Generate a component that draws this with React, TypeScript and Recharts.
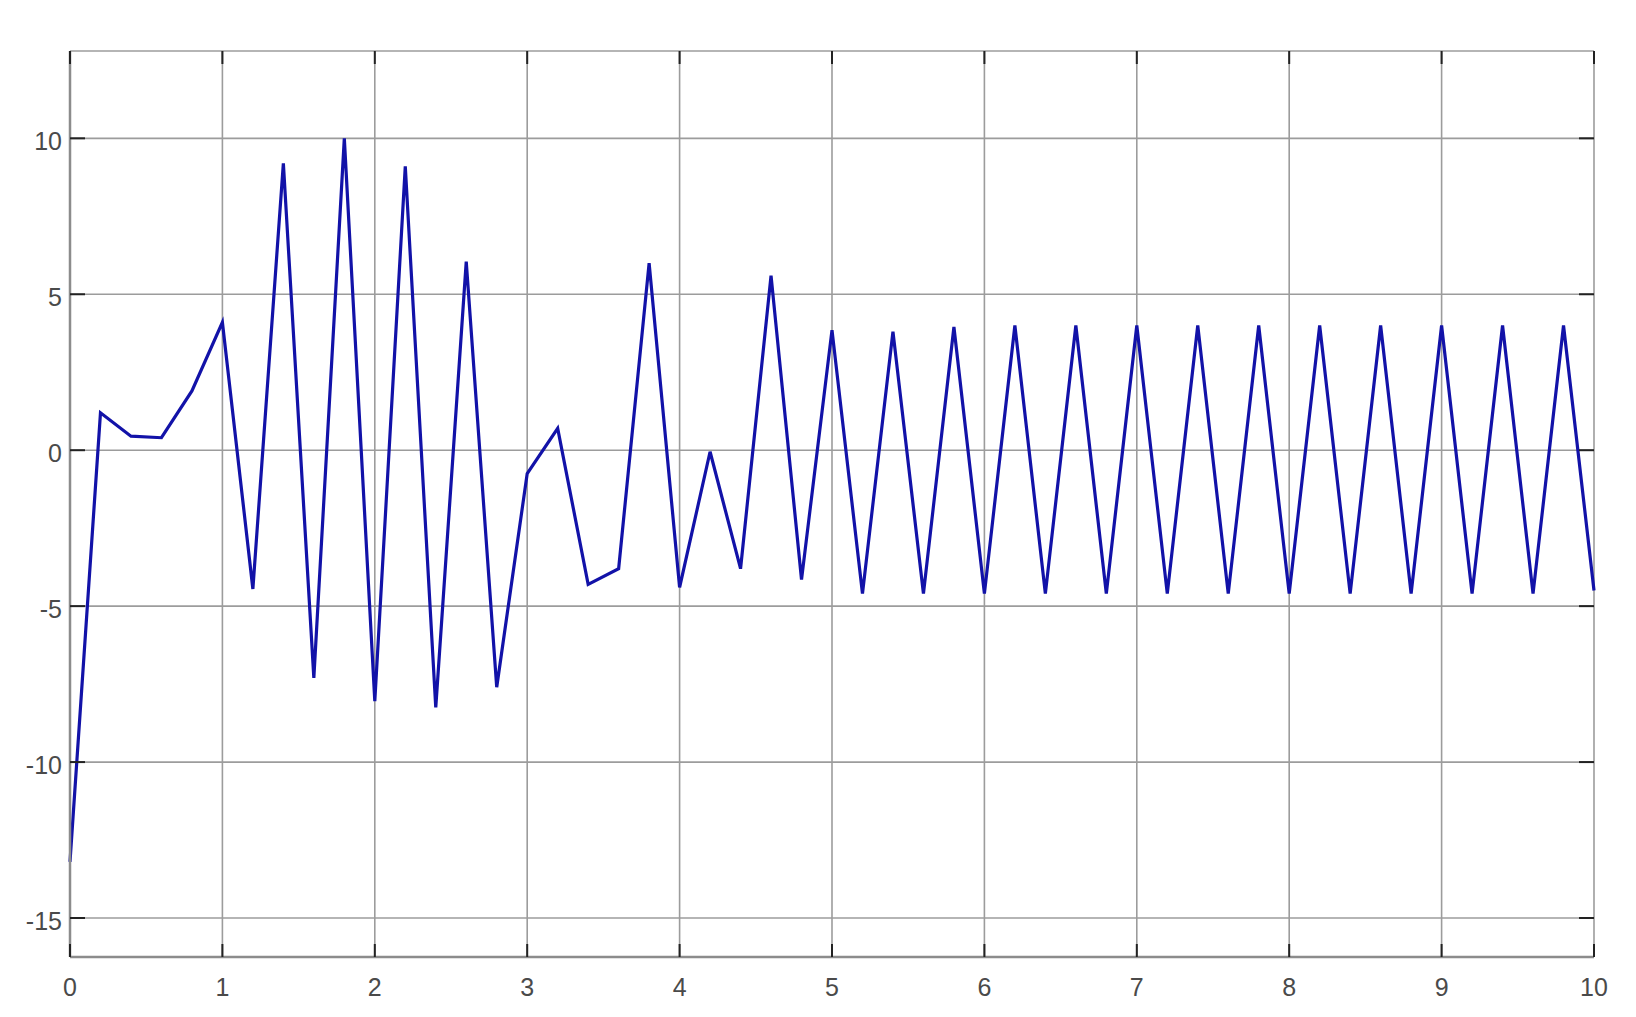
import { LineChart, Line, XAxis, YAxis, CartesianGrid } from "recharts"

const time = [
  0, 0.2, 0.4, 0.6, 0.8, 1, 1.2, 1.4, 1.6, 1.8, 2, 2.2, 2.4, 2.6, 2.8, 3, 3.2, 3.4, 3.6, 3.8, 4, 4.2, 4.4, 4.6, 4.8, 5,
  5.2, 5.4, 5.6, 5.8, 6, 6.2, 6.4, 6.6, 6.8, 7, 7.2, 7.4, 7.6, 7.8, 8, 8.2, 8.4, 8.6, 8.8, 9, 9.2, 9.4, 9.6, 9.8, 10,
]
const signal = [
  -13.2, 1.2, 0.45, 0.4, 1.9, 4.1, -4.45, 9.2, -7.3, 10.0, -8.05, 9.1, -8.25, 6.05, -7.6, -0.75, 0.7, -4.3, -3.8, 6.0,
  -4.4, -0.05, -3.8, 5.6, -4.15, 3.85, -4.6, 3.8, -4.6, 3.95, -4.6, 4.0, -4.6, 4.0, -4.6, 4.0, -4.6, 4.0, -4.6, 4.0,
  -4.6, 4.0, -4.6, 4.0, -4.6, 4.0, -4.6, 4.0, -4.6, 4.0, -4.5,
]
const xTicks = [0, 1, 2, 3, 4, 5, 6, 7, 8, 9, 10]
const yTicks = [-15, -10, -5, 0, 5, 10]

const data = time.map((t, i) => ({ t, v: signal[i] }))

// fixed plot box (px) — used only to place the inward tick marks
const W = 1636
const H = 1017
const PLOT = { left: 70, right: 1594, top: 51, bottom: 957 }
const TICK = 13
const label = { fill: "#4a4a4a", fontSize: 25, fontFamily: "Liberation Sans, Arial, sans-serif" }

const XTick = ({ x, payload }: any) => (
  <g>
    <line x1={x} x2={x} y1={PLOT.bottom} y2={PLOT.bottom - TICK} stroke="#222" strokeWidth={2} />
    <line x1={x} x2={x} y1={PLOT.top} y2={PLOT.top + TICK} stroke="#222" strokeWidth={2} />
    <text x={x} y={PLOT.bottom + 30} textAnchor="middle" dominantBaseline="central" {...label}>
      {payload.value}
    </text>
  </g>
)

const YTick = ({ y, payload }: any) => (
  <g>
    <line x1={PLOT.left} x2={PLOT.left + TICK + 2} y1={y} y2={y} stroke="#222" strokeWidth={2} />
    <line x1={PLOT.right} x2={PLOT.right - TICK - 2} y1={y} y2={y} stroke="#222" strokeWidth={2} />
    <text x={PLOT.left - 8} y={y + 3} textAnchor="end" dominantBaseline="central" {...label}>
      {payload.value}
    </text>
  </g>
)

export default function App() {
  return (
    <div style={{ position: "absolute", left: 0, top: 0, width: W, height: H, background: "#fff" }}>
      <LineChart width={W} height={H} data={data} margin={{ top: PLOT.top, right: W - PLOT.right, bottom: 0, left: 0 }}>
        <CartesianGrid stroke="#9c9c9c" strokeWidth={1.6} />
        <XAxis
          dataKey="t"
          type="number"
          domain={[0, 10]}
          ticks={xTicks}
          height={H - PLOT.bottom}
          axisLine={{ stroke: "#8c8c8c", strokeWidth: 2.5 }}
          tickLine={false}
          tick={<XTick />}
          interval={0}
        />
        <XAxis
          xAxisId="top"
          orientation="top"
          dataKey="t"
          type="number"
          domain={[0, 10]}
          height={0}
          tick={false}
          tickLine={false}
          axisLine={{ stroke: "#6a6a6a", strokeWidth: 2.5 }}
        />
        <YAxis
          type="number"
          domain={[-16.25, 12.8]}
          allowDataOverflow
          ticks={yTicks}
          width={PLOT.left}
          axisLine={{ stroke: "#8c8c8c", strokeWidth: 2.5 }}
          tickLine={false}
          tick={<YTick />}
          interval={0}
        />
        <YAxis
          yAxisId="right"
          orientation="right"
          type="number"
          domain={[-16.25, 12.8]}
          width={0}
          tick={false}
          tickLine={false}
          axisLine={{ stroke: "#a0a0a0", strokeWidth: 3 }}
        />
        <Line
          type="linear"
          dataKey="v"
          stroke="#1212a8"
          strokeWidth={3.2}
          dot={false}
          isAnimationActive={false}
        />
      </LineChart>
    </div>
  )
}
